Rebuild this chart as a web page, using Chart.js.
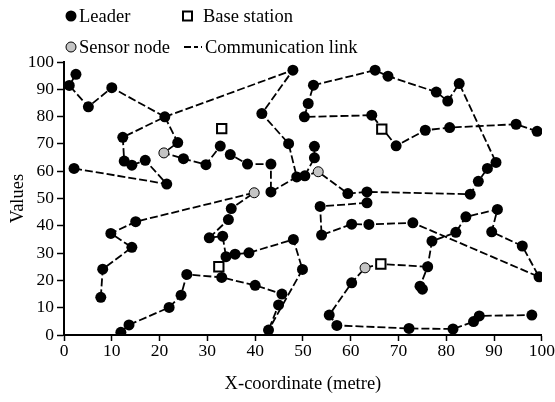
<!DOCTYPE html>
<html>
<head>
<meta charset="utf-8">
<script src="https://cdn.jsdelivr.net/npm/chart.js@4"></script>
<style>
  html, body { margin: 0; padding: 0; background: #fff; }
  #wrap { width: 555px; height: 402px; position: relative; }
</style>
</head>
<body>
<div id="wrap"><canvas id="c" width="555" height="402"></canvas></div>
<script>
// Node positions in metres (x, y)
const leaders = [
  [1.1,91.4],[2.5,95.5],[5.1,83.6],[10.0,90.6],[21.1,79.9],[12.3,72.4],[23.8,70.5],
  [12.6,63.7],[14.2,62.2],[17.0,64.0],[21.5,55.3],[2.1,61.0],[25.0,64.6],[29.7,62.4],
  [32.7,69.2],[34.8,66.1],[38.4,62.6],[43.3,62.6],[43.3,52.4],[48.7,57.9],[47.0,70.1],
  [41.4,81.1],[47.9,97.0],[50.4,58.3],[52.4,64.9],[52.4,69.1],[50.3,79.9],[51.1,84.8],
  [52.2,91.5],[65.1,97.0],[67.8,94.8],[77.9,89.0],[80.3,85.7],[82.7,92.1],[90.4,63.2],
  [88.6,61.0],[86.7,56.3],[85.0,51.6],[64.4,80.5],[69.5,69.3],[75.6,75.0],[80.7,76.0],
  [94.6,77.2],[99.0,74.6],[59.4,51.8],[63.4,52.4],[63.4,48.4],[53.6,47.1],[53.9,36.6],
  [60.2,40.6],[63.8,40.5],[73.0,41.1],[99.4,21.3],[95.9,32.6],[89.5,37.8],[90.7,46.0],
  [84.1,43.3],[82.0,37.6],[77.0,34.4],[76.1,25.0],[74.5,17.9],[75.0,16.8],[60.2,19.1],
  [55.5,7.3],[57.1,3.5],[72.2,2.4],[81.4,2.2],[85.7,4.9],[86.9,7.0],[97.9,7.3],
  [35.0,46.3],[34.4,42.3],[30.4,35.6],[33.2,36.2],[33.9,28.7],[35.8,29.6],[38.7,30.1],
  [48.0,35.0],[49.9,24.0],[45.6,15.0],[44.9,11.0],[42.8,1.8],[40.0,18.2],[33.0,21.1],
  [25.7,22.2],[24.5,14.6],[22.0,10.1],[13.6,3.7],[11.9,1.0],[7.7,13.8],[8.1,24.1],
  [14.2,32.1],[9.8,37.2],[15.0,41.5]
];
const sensorNodes = [[20.9,66.7],[39.8,52.1],[53.2,59.8],[63.0,24.6]];
const baseStations = [[33.0,75.6],[66.5,75.4],[32.4,25.0],[66.3,26.0]];

// Communication links, each one a path through the nodes
const linkA = [[2.1,61.0],[21.5,55.3],[17.0,64.0],[14.2,62.2],[12.6,63.7],[12.3,72.4],
  [21.1,79.9],[10.0,90.6],[5.1,83.6],[1.1,91.4],[2.5,95.5]];
const linkB = [[21.1,79.9],[47.9,97.0],[41.4,81.1],[47.0,70.1],[48.7,57.9]];
const linkC = [[21.1,79.9],[23.8,70.5],[20.9,66.7],[25.0,64.6],[29.7,62.4],[32.7,69.2],
  [34.8,66.1],[38.4,62.6],[43.3,62.6],[43.3,52.4],[48.7,57.9],[50.4,58.3],[53.2,59.8],
  [59.4,51.8],[63.4,52.4],[85.0,51.6],[86.7,56.3],[88.6,61.0],[90.4,63.2],[82.7,92.1],
  [80.3,85.7],[77.9,89.0],[67.8,94.8],[65.1,97.0],[52.2,91.5],[51.1,84.8],[50.3,79.9],
  [64.4,80.5],[69.5,69.3],[75.6,75.0],[80.7,76.0],[94.6,77.2],[99.0,74.6]];
const linkD = [[50.4,58.3],[52.4,64.9],[52.4,69.1]];
const linkE = [[7.7,13.8],[8.1,24.1],[14.2,32.1],[9.8,37.2],[15.0,41.5],[39.8,52.1],
  [35.0,46.3],[34.4,42.3],[30.4,35.6],[33.2,36.2],[33.9,28.7],[35.8,29.6],[38.7,30.1],
  [48.0,35.0],[49.9,24.0],[42.8,1.8]];
const linkF = [[11.9,1.0],[13.6,3.7],[22.0,10.1],[24.5,14.6],[25.7,22.2],[33.0,21.1],
  [40.0,18.2],[45.6,15.0],[44.9,11.0],[42.8,1.8]];
const linkG = [[63.4,48.4],[53.6,47.1],[53.9,36.6],[60.2,40.6],[63.8,40.5],[73.0,41.1],
  [99.4,21.3],[95.9,32.6],[89.5,37.8],[90.7,46.0],[84.1,43.3],[82.0,37.6],[77.0,34.4],
  [76.1,25.0],[74.5,17.9]];
const linkH = [[76.1,25.0],[66.3,26.0],[63.0,24.6],[60.2,19.1],[55.5,7.3],[57.1,3.5],
  [72.2,2.4],[81.4,2.2],[85.7,4.9],[86.9,7.0],[97.9,7.3]];
const links = [linkA, linkB, linkC, linkD, linkE, linkF, linkG, linkH];

const xTicks = [0,10,20,30,40,50,60,70,80,90,100];
const yTicks = [0,10,20,30,40,50,60,70,80,90,100];

const FONT = 'Liberation Serif, Times New Roman, serif';
const LINK_DASH = [8, 3];
const SENSOR_FILL = '#c4c4c4';

const toXY = arr => arr.map(p => ({x: p[0], y: p[1]}));

const datasets = [
  {
    label: 'Base station', data: toXY(baseStations), showLine: false, order: 0,
    pointStyle: 'rect', pointRadius: 6.6, pointBorderWidth: 2,
    pointBackgroundColor: '#fff', pointBorderColor: '#000'
  },
  {
    label: 'Sensor node', data: toXY(sensorNodes), showLine: false, order: 0,
    pointStyle: 'circle', pointRadius: 5, pointBorderWidth: 1,
    pointBackgroundColor: SENSOR_FILL, pointBorderColor: '#000'
  },
  {
    label: 'Leader', data: toXY(leaders), showLine: false, order: 0,
    pointStyle: 'circle', pointRadius: 5.5, pointBorderWidth: 0,
    pointBackgroundColor: '#000', pointBorderColor: '#000'
  }
];
links.forEach((path, i) => {
  datasets.push({
    label: 'Communication link ' + (i + 1), data: toXY(path), showLine: true, order: 1,
    borderColor: '#000', borderWidth: 1.8, borderDash: LINK_DASH,
    pointRadius: 0, tension: 0, fill: false
  });
});

// Two-row key above the plot
const keyPlugin = {
  id: 'key',
  afterDraw(chart) {
    const ctx = chart.ctx;
    ctx.save();
    ctx.font = '18.5px ' + FONT;
    ctx.fillStyle = '#000';
    ctx.textBaseline = 'middle';
    ctx.textAlign = 'left';
    const r1 = 16, r2 = 47;
    // Leader
    ctx.beginPath(); ctx.arc(71, r1, 5.5, 0, Math.PI * 2); ctx.fill();
    ctx.fillText('Leader', 79, r1 + 1);
    // Base station
    ctx.lineWidth = 2; ctx.strokeStyle = '#000';
    ctx.fillStyle = '#fff';
    ctx.fillRect(183, r1 - 4.5, 9, 9);
    ctx.strokeRect(183, r1 - 4.5, 9, 9);
    ctx.fillStyle = '#000';
    ctx.fillText('Base station', 203, r1 + 1);
    // Sensor node
    ctx.beginPath(); ctx.arc(71, r2, 5, 0, Math.PI * 2);
    ctx.fillStyle = SENSOR_FILL; ctx.fill();
    ctx.lineWidth = 1; ctx.stroke();
    ctx.fillStyle = '#000';
    ctx.fillText('Sensor node', 79, r2 + 1);
    // Communication link
    ctx.beginPath(); ctx.setLineDash([7, 3, 4, 3, 1.5, 100]); ctx.lineWidth = 1.8;
    ctx.moveTo(184, r2); ctx.lineTo(202, r2); ctx.stroke();
    ctx.setLineDash([]);
    ctx.fillText('Communication link', 205, r2 + 1);
    ctx.restore();
  }
};

new Chart(document.getElementById('c'), {
  type: 'scatter',
  data: { datasets },
  options: {
    responsive: false,
    animation: false,
    devicePixelRatio: 1,
    layout: { padding: { top: 62, right: 13, left: 0, bottom: 0 } },
    plugins: { legend: { display: false }, tooltip: { enabled: false } },
    scales: {
      x: {
        type: 'linear', min: 0, max: 100,
        afterFit: s => { s.height = 67; },
        afterBuildTicks: s => { s.ticks = xTicks.map(v => ({value: v})); },
        ticks: { color: '#000', font: { family: FONT, size: 17.5 }, padding: 0, maxRotation: 0 },
        grid: { drawOnChartArea: false, drawTicks: true, tickLength: 6, tickColor: '#000', tickWidth: 1.5 },
        border: { display: true, color: '#000', width: 2 },
        title: { display: true, text: 'X-coordinate (metre)', color: '#000',
                 font: { family: FONT, size: 18.5 }, padding: { top: 0, bottom: 7 } }
      },
      y: {
        type: 'linear', min: 0, max: 100,
        afterFit: s => { s.width = 64; },
        afterBuildTicks: s => { s.ticks = yTicks.map(v => ({value: v})); },
        ticks: { color: '#000', font: { family: FONT, size: 17.5 }, padding: 3 },
        grid: { drawOnChartArea: false, drawTicks: true, tickLength: 7, tickColor: '#000', tickWidth: 1.5 },
        border: { display: true, color: '#000', width: 2 },
        title: { display: true, text: 'Values', color: '#000',
                 font: { family: FONT, size: 18.5 }, padding: { top: 7, bottom: 0 } }
      }
    }
  },
  plugins: [keyPlugin]
});
</script>
</body>
</html>
